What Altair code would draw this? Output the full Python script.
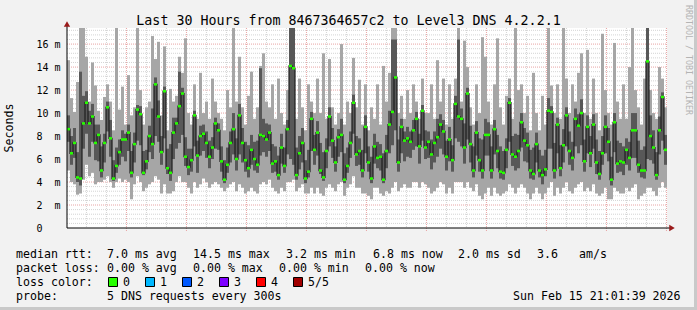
import altair as alt
import pandas as pd

# ---------------- data ----------------
START = "2026-02-14T15:01:39Z"
END = "2026-02-15T21:01:39Z"
STEP_MINUTES = 9  # one column per 9 minutes (200 columns over 30 hours)

ping_median = [
    8.6, 6.5, 7.4, 4.4, 4.3, 9.1, 10.9, 9.1, 9.7, 7.4, 8.1, 5.0, 7.4, 10.5, 7.8, 4.3, 5.4, 6.6, 7.7, 7.7,
    8.3, 4.8, 7.3, 10.3, 9.9, 4.8, 5.8, 8.0, 7.3, 12.5, 9.7, 6.6, 11.9, 5.2, 4.8, 8.3, 9.1, 10.6, 11.7, 6.2,
    5.3, 5.9, 9.8, 6.3, 8.0, 8.2, 7.4, 6.2, 7.0, 9.1, 8.5, 5.8, 4.2, 5.5, 7.4, 8.6, 6.0, 9.8, 7.4, 5.9,
    5.2, 6.8, 6.0, 5.5, 8.1, 8.0, 7.7, 8.3, 5.6, 5.8, 4.6, 7.0, 5.4, 8.6, 14.1, 13.9, 4.6, 6.5, 7.4, 4.3,
    4.9, 9.5, 6.8, 8.3, 5.0, 4.4, 6.7, 9.7, 7.6, 5.7, 7.9, 8.1, 4.2, 5.4, 7.4, 10.9, 6.4, 6.7, 5.0, 8.8,
    5.7, 4.3, 7.1, 6.1, 6.2, 4.2, 6.7, 9.0, 10.1, 13.1, 5.7, 8.8, 7.6, 7.8, 7.5, 8.5, 9.5, 7.1, 10.2, 7.0,
    7.5, 6.4, 7.4, 7.9, 9.0, 8.4, 6.2, 7.7, 5.9, 10.8, 9.7, 9.5, 7.0, 11.7, 7.3, 5.0, 8.3, 5.9, 5.0, 8.1,
    8.1, 5.0, 8.6, 6.7, 4.9, 4.8, 6.8, 10.9, 6.4, 6.2, 6.7, 9.2, 7.6, 7.2, 5.0, 4.7, 7.3, 5.0, 4.6, 5.1,
    10.2, 10.1, 5.0, 9.0, 5.2, 7.2, 9.8, 6.7, 6.1, 9.5, 8.9, 10.0, 5.8, 8.8, 6.5, 9.0, 5.7, 4.7, 6.5, 8.8,
    7.5, 4.2, 9.2, 5.6, 5.8, 5.7, 6.8, 6.1, 8.5, 8.5, 5.5, 5.0, 5.0, 14.5, 8.0, 7.0, 4.6, 8.5, 11.4, 6.8,
]
ping_max = [
    14.6, 11.3, 10.1, 12.7, 17.4, 17.4, 14.9, 11.0, 14.4, 12.4, 10.2, 9.4, 11.4, 12.5, 11.0, 8.5, 17.4, 10.3, 12.3, 9.0,
    13.3, 9.8, 10.5, 17.4, 12.0, 9.0, 10.5, 11.0, 16.7, 14.7, 16.2, 9.8, 15.8, 8.5, 12.1, 11.0, 11.5, 14.9, 13.5, 16.5,
    10.0, 9.0, 12.5, 9.5, 13.5, 10.0, 11.0, 9.5, 13.0, 11.0, 10.0, 9.5, 8.5, 12.0, 10.5, 17.4, 11.0, 14.9, 10.5, 9.0,
    11.5, 13.6, 9.5, 10.5, 14.1, 15.2, 11.0, 10.5, 12.5, 9.5, 13.0, 10.0, 9.0, 12.0, 17.4, 17.4, 9.5, 13.0, 10.5, 8.5,
    12.5, 11.0, 10.0, 13.0, 10.0, 15.2, 9.5, 14.7, 10.5, 9.0, 10.0, 16.0, 9.0, 11.0, 10.0, 14.8, 10.5, 12.9, 9.0, 12.5,
    8.5, 10.5, 9.5, 12.5, 9.0, 14.1, 11.0, 13.5, 17.4, 17.4, 10.0, 11.5, 9.5, 12.0, 10.0, 12.5, 11.0, 9.5, 13.0, 10.0,
    10.0, 12.5, 9.5, 14.6, 11.0, 13.0, 9.0, 12.5, 9.5, 13.0, 17.4, 11.0, 16.3, 14.0, 10.5, 9.0, 12.5, 10.0, 16.6, 14.9,
    11.0, 9.0, 12.5, 16.5, 10.5, 9.0, 11.5, 13.0, 9.5, 17.4, 12.0, 12.5, 10.0, 11.5, 8.5, 13.5, 10.0, 8.5, 11.5, 9.0,
    17.4, 12.4, 10.0, 12.5, 9.5, 17.4, 13.0, 10.0, 12.5, 11.0, 13.5, 15.2, 10.0, 15.5, 9.5, 13.0, 10.0, 8.5, 16.9, 12.0,
    10.0, 9.0, 16.1, 11.0, 9.5, 12.5, 9.5, 14.0, 17.4, 12.0, 10.5, 9.0, 13.0, 17.4, 12.0, 10.0, 9.5, 14.0, 13.0, 10.5,
]
ping_upper = [
    9.8, 8.0, 8.7, 6.6, 13.6, 11.5, 11.9, 10.2, 10.8, 9.0, 9.0, 7.1, 8.2, 11.0, 9.4, 5.9, 7.0, 7.7, 8.5, 8.2,
    9.0, 6.7, 8.3, 10.7, 10.6, 6.7, 6.8, 8.9, 10.4, 13.1, 11.1, 8.0, 12.3, 6.9, 7.3, 9.6, 9.6, 13.6, 12.2, 7.9,
    6.9, 6.9, 10.2, 7.6, 8.9, 9.0, 8.4, 7.6, 7.9, 9.6, 9.1, 7.1, 5.9, 7.0, 8.4, 10.0, 7.8, 10.8, 8.7, 7.5,
    7.2, 8.1, 7.5, 7.6, 13.9, 9.5, 9.1, 9.0, 7.3, 7.1, 6.3, 8.2, 7.0, 9.4, 17.4, 17.4, 7.0, 8.0, 8.7, 5.9,
    6.8, 10.1, 8.1, 9.3, 7.4, 6.6, 7.8, 10.5, 8.7, 7.1, 8.6, 9.5, 6.5, 7.0, 8.4, 11.6, 8.0, 7.8, 6.8, 9.8,
    7.1, 6.2, 8.2, 7.5, 7.3, 6.5, 8.1, 10.2, 16.4, 16.4, 7.7, 9.5, 8.4, 8.8, 8.4, 9.4, 10.1, 8.2, 10.7, 8.5,
    8.4, 7.7, 8.4, 9.5, 9.9, 9.4, 7.6, 8.8, 7.2, 11.5, 16.4, 10.4, 9.1, 12.2, 8.9, 7.1, 9.3, 7.8, 7.7, 9.5,
    9.2, 7.1, 9.4, 8.1, 7.1, 6.7, 7.8, 11.3, 8.0, 8.2, 8.1, 10.0, 8.7, 8.3, 6.8, 7.0, 8.3, 6.8, 6.3, 6.8,
    11.3, 10.6, 7.4, 9.6, 7.2, 8.6, 10.5, 8.4, 7.5, 10.4, 9.9, 11.2, 7.7, 9.8, 8.0, 9.9, 7.7, 6.7, 8.0, 9.8,
    8.7, 6.2, 10.0, 7.6, 7.4, 7.1, 7.8, 7.5, 10.0, 10.0, 7.6, 6.8, 7.1, 17.4, 9.8, 8.5, 6.6, 9.7, 11.8, 8.1,
]
ping_lower = [
    7.5, 5.5, 6.1, 4.0, 3.7, 6.9, 8.2, 6.2, 7.5, 5.9, 5.8, 4.4, 5.7, 8.4, 6.2, 4.1, 4.8, 5.5, 6.2, 5.8,
    6.7, 4.4, 5.7, 7.6, 7.2, 4.6, 5.1, 6.6, 6.0, 8.0, 7.5, 5.5, 7.8, 4.7, 4.1, 6.0, 6.9, 7.4, 8.1, 5.4,
    4.6, 4.9, 7.1, 4.8, 6.3, 6.7, 6.1, 5.2, 6.0, 6.9, 6.8, 4.9, 3.9, 4.8, 5.7, 6.4, 5.0, 6.4, 5.7, 4.9,
    4.4, 5.5, 5.0, 4.8, 6.3, 6.6, 6.2, 6.7, 4.8, 4.9, 4.2, 5.6, 4.8, 6.4, 6.0, 5.5, 4.2, 5.1, 5.7, 3.9,
    4.4, 6.7, 5.5, 6.3, 4.7, 4.1, 5.2, 7.1, 6.1, 4.9, 6.2, 6.6, 3.9, 4.8, 6.1, 8.2, 5.4, 5.5, 4.4, 6.5,
    4.9, 3.9, 5.6, 5.2, 5.0, 3.9, 5.2, 6.5, 7.2, 8.5, 4.9, 6.5, 5.8, 6.2, 6.1, 6.8, 7.1, 5.6, 7.6, 6.0,
    6.1, 5.1, 5.7, 6.2, 6.9, 6.4, 5.0, 5.8, 4.9, 7.8, 7.5, 7.1, 5.6, 7.7, 5.7, 4.4, 6.3, 4.9, 4.3, 6.3,
    6.3, 4.3, 6.4, 5.2, 4.3, 4.2, 5.2, 7.5, 5.4, 5.0, 5.2, 7.0, 5.8, 5.7, 4.3, 4.2, 5.7, 4.4, 3.8, 4.5,
    6.9, 6.9, 4.3, 6.5, 4.5, 5.7, 7.1, 5.5, 5.0, 7.1, 6.5, 7.2, 4.9, 6.5, 5.3, 6.9, 4.7, 4.2, 5.5, 6.5,
    5.8, 3.7, 6.6, 4.8, 4.9, 4.6, 5.5, 5.0, 6.1, 6.1, 4.8, 4.4, 4.3, 6.0, 5.9, 5.6, 4.2, 6.4, 7.6, 5.5,
]
ping_min = [
    5.0, 4.0, 3.8, 2.9, 3.0, 4.2, 5.5, 4.5, 4.8, 3.8, 4.0, 4.0, 4.2, 4.5, 4.0, 3.5, 4.0, 4.3, 4.0, 4.2,
    4.0, 2.5, 3.8, 4.5, 4.0, 3.2, 3.5, 3.8, 4.0, 4.5, 4.2, 3.0, 3.8, 3.0, 3.0, 3.2, 4.0, 4.5, 4.0, 4.0,
    3.5, 3.0, 4.0, 3.5, 3.8, 4.3, 4.0, 3.5, 3.8, 4.0, 3.8, 3.5, 3.2, 3.5, 3.8, 4.0, 3.2, 3.8, 3.5, 3.0,
    3.2, 3.5, 3.2, 3.0, 3.8, 4.0, 3.8, 4.2, 3.5, 3.2, 3.0, 3.5, 3.2, 4.0, 4.0, 4.2, 3.2, 3.5, 3.8, 3.0,
    3.0, 3.5, 3.0, 3.5, 3.0, 2.8, 3.5, 3.8, 3.5, 3.2, 3.8, 4.0, 2.8, 3.5, 3.8, 4.5, 3.5, 3.5, 3.0, 3.0,
    2.8, 2.5, 3.5, 3.5, 3.0, 2.8, 3.2, 3.0, 3.5, 4.0, 3.2, 3.5, 3.8, 3.5, 3.5, 4.0, 4.0, 3.5, 4.0, 3.8,
    3.5, 3.0, 3.2, 3.5, 4.0, 3.8, 3.0, 3.5, 3.0, 4.0, 4.0, 4.0, 3.5, 4.0, 3.5, 3.2, 3.8, 2.8, 2.5, 3.0,
    3.5, 2.8, 3.5, 3.0, 2.8, 3.0, 3.2, 3.8, 3.5, 3.0, 3.5, 3.8, 3.5, 3.0, 2.5, 3.0, 3.5, 3.0, 2.5, 3.0,
    3.5, 4.0, 2.8, 3.5, 3.0, 3.5, 4.0, 3.2, 3.0, 3.5, 3.8, 4.0, 3.2, 3.5, 3.2, 3.8, 3.0, 2.8, 3.0, 3.5,
    2.5, 2.5, 3.5, 3.2, 3.0, 3.0, 3.5, 3.2, 3.5, 3.8, 2.5, 2.8, 3.0, 3.5, 3.5, 3.2, 2.8, 3.5, 4.0, 3.5,
]

Y_MAX = 17.4
y_tick_values = [0, 2, 4, 6, 8, 10, 12, 14, 16]
y_tick_labels = ["\u00a00", "2\u00a0\u00a0m", "4\u00a0\u00a0m", "6\u00a0\u00a0m", "8\u00a0\u00a0m",
                 "10 m", "12 m", "14 m", "16 m"]
x_tick_times = ["2026-02-14T18:00:00Z", "2026-02-15T00:00:00Z", "2026-02-15T06:00:00Z",
                "2026-02-15T12:00:00Z", "2026-02-15T18:00:00Z"]
x_tick_labels = ["Sat 18:00", "Sun 00:00", "Sun 06:00", "Sun 12:00", "Sun 18:00"]

title_text = "Last 30 Hours from 8467364657c2 to Level3 DNS 4.2.2.1"
y_title = "Seconds"
watermark = "RRDTOOL / TOBI OETIKER"
legend_rows = [
    [(16, "median rtt:"), (107, "7.0 ms avg"), (193, "14.5 ms max"), (286, "3.2 ms min"),
     (373, "6.8 ms now"), (458, "2.0 ms sd"), (537, "3.6"), (579, "am/s")],
    [(16, "packet loss:"), (107, "0.00 % avg"), (193, "0.00 % max"), (279, "0.00 % min"),
     (365, "0.00 % now")],
    [(16, "loss color:")],
    [(16, "probe:"), (107, "5 DNS requests every 300s"), (513, "Sun Feb 15 21:01:39 2026")],
]
loss_labels = ["0", "1", "2", "3", "4", "5/5"]
loss_colors = ["#26FF00", "#00B8FF", "#0059FF", "#7E00FF", "#FF0000", "#A10000"]

# ---------------- layout constants ----------------
FONT = "DejaVu Sans Mono"
LEFT, TOP, W, H = 67, 28, 600, 200
TOTAL_W, TOTAL_H = 697, 310
BG = "#F2F2F2"


def iso(t):
    return t.strftime("%Y-%m-%dT%H:%M:%SZ")


def ms(s):
    return int(pd.Timestamp(s).value // 10**6)


t_start = pd.Timestamp(START)
n = len(ping_median)
step = pd.Timedelta(minutes=STEP_MINUTES)
df = pd.DataFrame({
    "t0": [iso(t_start + step * i) for i in range(n)],
    "t1": [iso(t_start + step * (i + 1)) for i in range(n)],
    "med": ping_median,
    "pmax": ping_max,
    "pup": ping_upper,
    "plo": ping_lower,
    "pmin": ping_min,
})

# grid definitions
hours = pd.date_range("2026-02-14T16:00:00Z", "2026-02-15T21:00:00Z", freq="1h")
major_hours = [iso(h) for h in hours if h.hour % 3 == 0]
minor_hours = [iso(h) for h in hours if h.hour % 3 != 0]
minor_y = [round(0.4 * i, 1) for i in range(1, 44) if i % 5 != 0]
major_y = [v for v in y_tick_values if v > 0]

xscale = alt.Scale(type="utc", domain=[ms(START), ms(END)], nice=False)
yscale = alt.Scale(domain=[0, Y_MAX], nice=False, zero=True)

y_expr = " : ".join(
    f"datum.value == {v} ? '{lab}'" for v, lab in zip(y_tick_values, y_tick_labels)
) + " : ''"
x_vals = [ms(t) for t in x_tick_times]
x_expr = " : ".join(
    f"datum.value == {v} ? '{lab}'" for v, lab in zip(x_vals, x_tick_labels)
) + " : ''"

x_axis = alt.Axis(values=x_vals, labelExpr=x_expr, domain=False, ticks=False, tickSize=0,
                  grid=False, labelFont=FONT, labelFontSize=10, labelColor="#000000",
                  labelPadding=13, labelBaseline="alphabetic", labelFlush=False,
                  labelOverlap=False, title=None)
y_axis = alt.Axis(values=y_tick_values, labelExpr=y_expr, domain=False, ticks=False, tickSize=0,
                  grid=False, labelFont=FONT, labelFontSize=10, labelColor="#000000",
                  labelAlign="left", labelPadding=31, labelBaseline="middle",
                  labelFlush=False, labelOverlap=False, title=None)


def X(field):
    return alt.X(field, scale=xscale, axis=x_axis, title=None)


def Y(field):
    return alt.Y(field, scale=yscale, axis=y_axis, title=None)


one = pd.DataFrame({"k": [0]})

# ---------------- grid ----------------
grid_minor_h = alt.Chart(pd.DataFrame({"v": minor_y})).mark_rule(
    color="#D4D4D4", strokeDash=[1, 1], strokeWidth=1
).encode(y=Y("v:Q"), x=alt.value(0), x2=alt.value(W))

grid_minor_v = alt.Chart(pd.DataFrame({"t": minor_hours})).mark_rule(
    color="#D4D4D4", strokeDash=[1, 1], strokeWidth=1
).encode(x=X("t:T"), y=alt.value(0), y2=alt.value(H))

grid_major_h = alt.Chart(pd.DataFrame({"v": major_y})).mark_rule(
    color="#E8A4A4", strokeDash=[1, 1], strokeWidth=1
).encode(y=Y("v:Q"), x=alt.value(0), x2=alt.value(W))

grid_major_v = alt.Chart(pd.DataFrame({"t": major_hours})).mark_rule(
    color="#E8A4A4", strokeDash=[1, 1], strokeWidth=1
).encode(x=X("t:T"), y=alt.value(0), y2=alt.value(H + 3))

# ---------------- smoke ----------------
base = alt.Chart(df)
smoke_outer = base.mark_bar(color="#A6A6A6", strokeWidth=0).encode(
    x=X("t0:T"), x2="t1:T", y=Y("pmin:Q"), y2="pmax:Q",
)
smoke_inner = base.mark_bar(color="#585858", strokeWidth=0).encode(
    x=X("t0:T"), x2="t1:T", y=Y("plo:Q"), y2="pup:Q",
)
median_line = base.mark_line(color="#1E1E1E", strokeWidth=1.2, interpolate="step-after").encode(
    x=X("t0:T"), y=Y("med:Q"),
)
median_mark = base.transform_calculate(
    lo="datum.med - 0.11", hi="datum.med + 0.11"
).mark_bar(color=loss_colors[0], strokeWidth=0).encode(
    x=X("t0:T"), x2="t1:T", y=Y("lo:Q"), y2="hi:Q",
)

# ---------------- axes lines & arrows ----------------
ARROW = "#9A1A1A"
x_line = alt.Chart(one).mark_rule(color="#000000", strokeWidth=1).encode(
    x=alt.value(0), x2=alt.value(W + 3), y=alt.value(H))
y_line = alt.Chart(one).mark_rule(color="#000000", strokeWidth=1).encode(
    x=alt.value(0), y=alt.value(H), y2=alt.value(-2))
x_arrow = alt.Chart(one).mark_point(shape="triangle-right", filled=True, color=ARROW,
                                    size=40, opacity=1).encode(
    x=alt.value(W + 5), y=alt.value(H))
y_arrow = alt.Chart(one).mark_point(shape="triangle-up", filled=True, color=ARROW,
                                    size=40, opacity=1).encode(
    x=alt.value(0), y=alt.value(-4))

# frame shading (right / bottom edges of the canvas)
frame_r = alt.Chart(one).mark_rule(color="#C9C9C9", strokeWidth=3).encode(
    x=alt.value(TOTAL_W - LEFT - 1.5), y=alt.value(-TOP), y2=alt.value(TOTAL_H - TOP))
frame_b = alt.Chart(one).mark_rule(color="#C9C9C9", strokeWidth=3).encode(
    x=alt.value(-LEFT), x2=alt.value(TOTAL_W - LEFT), y=alt.value(TOTAL_H - TOP - 1.5))


# ---------------- texts ----------------
def text_at(text, x, y, size=11.6, align="left", baseline="alphabetic", angle=0, color="#000000"):
    return alt.Chart(one).mark_text(
        text=text, align=align, baseline=baseline, font=FONT, fontSize=size,
        angle=angle, color=color,
    ).encode(x=alt.value(x - LEFT), y=alt.value(y - TOP))


texts = [
    text_at(title_text, TOTAL_W / 2, 24.7, size=13.3, align="center"),
    text_at(y_title, 10, 128, size=11.6, align="center", baseline="middle", angle=270),
    text_at(watermark, 688, 60, size=8.3, align="center", baseline="middle", angle=90,
            color="#B4B4B4"),
]
row_baselines = [257.5, 271.7, 286, 299.5]
for row, yb in zip(legend_rows, row_baselines):
    for x, s in row:
        texts.append(text_at(s, x, yb))

boxes = []
for i, (lab, col) in enumerate(zip(loss_labels, loss_colors)):
    bx = 108.5 + 37 * i
    boxes.append(alt.Chart(one).mark_rect(fill=col, stroke="#000000", strokeWidth=1).encode(
        x=alt.value(bx - LEFT), x2=alt.value(bx + 9 - LEFT),
        y=alt.value(277.5 - TOP), y2=alt.value(286.5 - TOP)))
    texts.append(text_at(lab, bx + 14.5, 286))

chart = alt.layer(
    grid_minor_h, grid_minor_v, grid_major_h, grid_major_v,
    smoke_outer, smoke_inner, median_line, median_mark,
    x_line, y_line, x_arrow, y_arrow, frame_r, frame_b,
    *boxes, *texts,
).properties(
    width=W, height=H,
    padding={"left": LEFT, "top": TOP, "right": TOTAL_W - LEFT - W, "bottom": TOTAL_H - TOP - H},
    autosize=alt.AutoSizeParams(type="none"),
    background=BG,
).configure_view(stroke=None, fill="#FFFFFF")

chart.save("out.html", embed_options={"renderer": "svg", "actions": False})
